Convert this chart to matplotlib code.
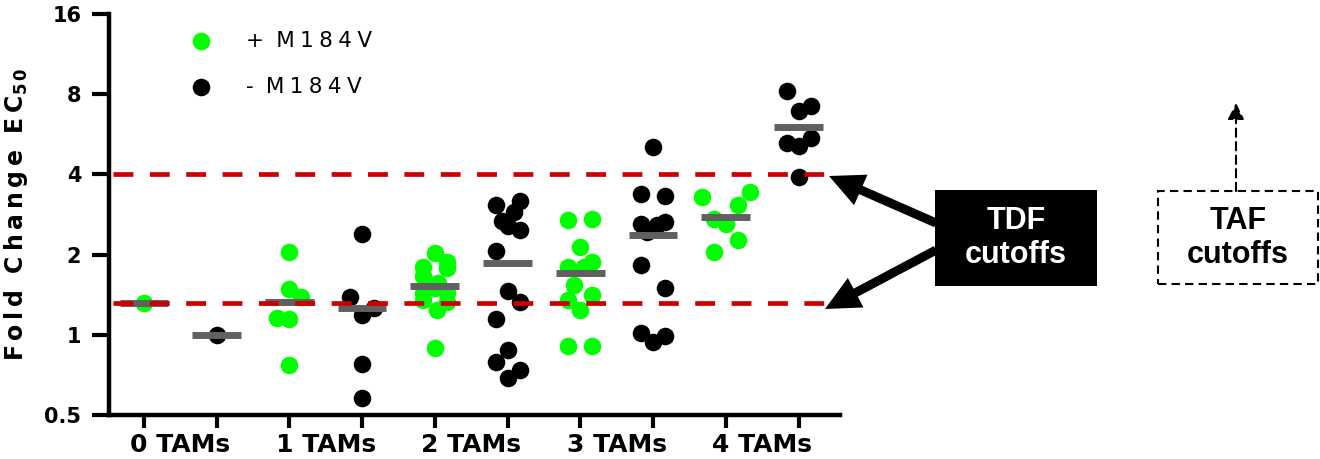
import numpy as np
import matplotlib
matplotlib.use('Agg')
import matplotlib.pyplot as plt
from matplotlib.patches import Rectangle, FancyArrowPatch

plt.rcParams['font.family'] = 'DejaVu Sans'
plt.rcParams['mathtext.fontset'] = 'custom'
plt.rcParams['mathtext.rm'] = 'DejaVu Sans:bold'
plt.rcParams['mathtext.bf'] = 'DejaVu Sans:bold'

# fold change values per TAM count, with (+) and without (-) M184V
tam_labels = ['0 TAMs', '1 TAMs', '2 TAMs', '3 TAMs', '4 TAMs']

fc_0_pos = [1.32]
fc_0_neg = [1.0]
fc_1_pos = [2.04, 1.48, 1.39, 1.155, 1.15, 0.77]
fc_1_neg = [2.39, 1.39, 1.26, 1.19, 0.78, 0.58]
fc_2_pos = [2.03, 1.88, 1.78, 1.80, 1.66, 1.56, 1.50, 1.43, 1.43, 1.35, 1.33, 1.24, 0.89]
fc_2_neg = [3.08, 3.19, 2.88, 2.68, 2.56, 2.48, 2.07, 1.46, 1.33, 1.15, 0.88, 0.79, 0.74, 0.69]
fc_3_pos = [2.70, 2.72, 2.13, 1.80, 1.88, 1.80, 1.54, 1.35, 1.41, 1.24, 0.91, 0.91]
fc_3_neg = [5.09, 3.38, 3.33, 2.60, 2.66, 2.59, 2.44, 1.83, 1.50, 1.02, 0.94, 0.99]
fc_4_pos = [3.30, 3.43, 3.06, 2.73, 2.60, 2.27, 2.04]
fc_4_neg = [8.24, 7.24, 6.89, 5.25, 5.12, 5.47, 3.91]

# horizontal jitter slots for each point (in units of one marker step)
jit_0_pos = [0]
jit_0_neg = [0]
jit_1_pos = [0, 0, 1, -1, 0, 0]
jit_1_neg = [0, -1, 1, 0, 0, 0]
jit_2_pos = [0, 1, 1, -1, -1, 0.3, 0, -1, 1, -1, 1, 0.2, 0]
jit_2_neg = [-1, 1, 0.5, -0.5, 0, 1, -1, 0, 1, -1, 0, -1, 1, 0]
jit_3_pos = [-1, 1, 0, -1, 1, 0.3, -0.5, -1, 1, 0, -1, 1]
jit_3_neg = [0, -1, 1, -1, 1, 0.3, -0.5, -1, 1, -1, 0, 1]
jit_4_pos = [-2, 2, 1, -1, 0, 1, -1]
jit_4_neg = [-1, 1, 0, -1, 0, 1, 0]

# group medians
med_pos = [1.32, 1.33, 1.52, 1.70, 2.76]
med_neg = [1.00, 1.26, 1.86, 2.37, 6.02]

# TDF cutoff levels
cutoffs = [1.32, 4.0]

pos_groups = [(fc_0_pos, jit_0_pos), (fc_1_pos, jit_1_pos), (fc_2_pos, jit_2_pos),
              (fc_3_pos, jit_3_pos), (fc_4_pos, jit_4_pos)]
neg_groups = [(fc_0_neg, jit_0_neg), (fc_1_neg, jit_1_neg), (fc_2_neg, jit_2_neg),
              (fc_3_neg, jit_3_neg), (fc_4_neg, jit_4_neg)]

GREEN = '#00ff00'
GREY = '#606060'
RED = '#cc0000'
W, H = 1320, 459
step = 0.165
sp = '\u2005'   # narrow gaps used for the spaced-out lettering
ts = '\u2009'

fig = plt.figure(figsize=(W / 100, H / 100), dpi=100)
ax = fig.add_axes([109 / W, 44 / H, 731 / W, 401 / H])

for i in range(5):
    xp = 2 * i + 1
    xn = 2 * i + 2
    vals, jit = pos_groups[i]
    ax.scatter(xp + np.array(jit) * step, vals, s=160, color=GREEN, linewidths=0, zorder=3,
               label='+ ' + sp + sp.join('M184V') if i == 0 else None)
    vals, jit = neg_groups[i]
    ax.scatter(xn + np.array(jit) * step, vals, s=160, color='black', linewidths=0, zorder=3,
               label='- ' + sp + sp.join('M184V') if i == 0 else None)
    ax.hlines(med_pos[i], xp - 0.335, xp + 0.335, color=GREY, lw=5, zorder=4)
    ax.hlines(med_neg[i], xn - 0.335, xn + 0.335, color=GREY, lw=5, zorder=4)

for c in cutoffs:
    ax.hlines(c, 0.57, 10.42, color=RED, lw=3.4, linestyles=(0, (4.2, 3.5)), zorder=5)

ax.set_yscale('log', base=2)
ax.set_ylim(0.5, 16)
ax.set_xlim(0.52, 10.57)
ax.set_yticks([0.5, 1, 2, 4, 8, 16])
ax.set_yticklabels(['0.5', '1', '2', '4', '8', '16'], fontsize=15, fontweight='bold')
ax.yaxis.set_minor_locator(matplotlib.ticker.NullLocator())
ax.set_xticks(np.arange(1, 11))
ax.set_xticklabels([])
ax.set_xticks(np.arange(1.5, 10.5, 2), minor=True)
ax.set_xticklabels(tam_labels, minor=True, fontsize=18, fontweight='bold')
ax.tick_params(axis='x', which='minor', length=0, pad=13)
ax.tick_params(axis='x', which='major', length=9, width=3)
ax.tick_params(axis='y', which='major', length=12, width=3, pad=8)

for s in ['top', 'right']:
    ax.spines[s].set_visible(False)
for s in ['left', 'bottom']:
    ax.spines[s].set_linewidth(3.2)

ylab = ts.join('Fold') + '  ' + ts.join('Change') + '  ' + ts.join('EC') + r'$_{5\,0}$'
ax.set_ylabel(ylab, fontsize=17, fontweight='bold', labelpad=10)

ax.legend(loc='upper left', bbox_to_anchor=(179 / W, 1 - 31 / H), bbox_transform=fig.transFigure,
          frameon=False, fontsize=15.5, handletextpad=1.1, labelspacing=1.2,
          borderpad=0, borderaxespad=0, scatterpoints=1)


def fp(x, y):
    # pixel position measured from the top-left corner to figure fraction
    return (x / W, 1 - y / H)


# TDF callout: filled box with two arrows towards the cutoff lines
fig.patches.append(Rectangle(fp(935, 286), 162 / W, 96 / H, transform=fig.transFigure,
                             facecolor='black', edgecolor='none'))
fig.text(*fp(1016, 238), 'TDF\ncutoffs', color='white', fontsize=22, fontweight='bold',
         family='Liberation Sans', ha='center', va='center', linespacing=1.15)
for tail, tip in [((936, 223), (829, 176)), ((936, 250), (825, 309))]:
    fig.patches.append(FancyArrowPatch(fp(*tail), fp(*tip), transform=fig.transFigure,
                                       arrowstyle='simple,head_length=2.5,head_width=2.4,tail_width=0.65',
                                       mutation_scale=10, color='black', lw=0,
                                       shrinkA=0, shrinkB=0))

# TAF callout: dashed box with a dashed arrow pointing up
fig.patches.append(Rectangle(fp(1158, 284), 160 / W, 93 / H, transform=fig.transFigure,
                             facecolor='white', edgecolor='black', lw=1.5, linestyle=(0, (4, 2.5))))
fig.text(*fp(1238, 238), 'TAF\ncutoffs', color='black', fontsize=22, fontweight='bold',
         family='Liberation Sans', ha='center', va='center', linespacing=1.15)
fig.patches.append(FancyArrowPatch(fp(1236, 191), fp(1236, 103), transform=fig.transFigure,
                                   arrowstyle='-|>,head_length=0.7,head_width=0.35',
                                   mutation_scale=14, color='black', lw=1.5,
                                   linestyle=(0, (4, 2.5)), shrinkA=0, shrinkB=0))

fig.savefig('out.png', dpi=100)
